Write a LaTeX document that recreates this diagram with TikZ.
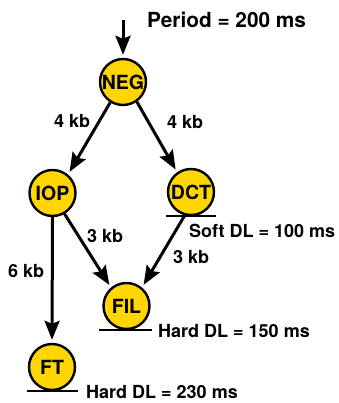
\documentclass[tikz,border=0pt]{standalone}
\usepackage{fontspec}
\setmainfont{TeX Gyre Heros}
\usetikzlibrary{arrows.meta}
\definecolor{taskfill}{RGB}{255,214,0}
\tikzset{
  task/.style={circle, draw=black, line width=2.4pt, fill=taskfill,
    minimum size=46pt, inner sep=0pt,
    font=\fontsize{19.5}{21}\selectfont\bfseries},
  flow/.style={line width=3pt, shorten >=3pt,
    -{Stealth[length=19pt, width=15pt, inset=3pt]}},
  deadline/.style={line width=2pt},
  lbl/.style={inner sep=0pt, anchor=base west,
    font=\fontsize{18}{20}\selectfont\bfseries},
  biglbl/.style={lbl, font=\fontsize{20.8}{22}\selectfont\bfseries}
}
\begin{document}
\begin{tikzpicture}[x=1pt, y=-1pt]
  \useasboundingbox (0,0) rectangle (338,403);

  % tasks
  \node[task] (NEG) at (123,82)  {NEG};
  \node[task] (IOP) at (52.5,193) {IOP};
  \node[task] (DCT) at (191,192) {DCT};
  \node[task] (FIL) at (126.5,306) {FIL};
  \node[task] (FT)  at (52,367)  {FT};

  % periodic activation
  \coordinate (src) at (123,20);
  \draw[flow] (src) -- (NEG.north);
  \node[biglbl] (period) at (147,28) {Period = 200 ms};

  % data flows
  \draw[flow] (NEG.238) -- (IOP.50);
  \draw[flow] (NEG.-55) -- (DCT.125);
  \draw[flow] (IOP.south) -- (FT.north);
  \draw[flow] (IOP.-60) -- (FIL.130);
  \draw[flow] (DCT.-105) -- (FIL.50);

  \node[lbl] (e1) at (54,128)  {4 kb};
  \node[lbl] (e2) at (167,129) {4 kb};
  \node[lbl] (e3) at (87,242)  {3 kb};
  \node[lbl] (e4) at (8,277)   {6 kb};
  \node[lbl] (e5) at (173,263) {3 kb};

  % deadlines
  \draw[deadline] ([xshift=-25pt]DCT.south) -- ([xshift=25pt]DCT.south);
  \draw[deadline] ([xshift=-28pt]FIL.south) -- ([xshift=25pt]FIL.south);
  \draw[deadline] ([xshift=-25pt]FT.south) -- ([xshift=26pt]FT.south);

  \node[lbl] (d1) at (189,237) {Soft DL = 100 ms};
  \node[lbl] (d2) at (158,337) {Hard DL = 150 ms};
  \node[lbl] (d3) at (86,398)  {Hard DL = 230 ms};
\end{tikzpicture}
\end{document}
